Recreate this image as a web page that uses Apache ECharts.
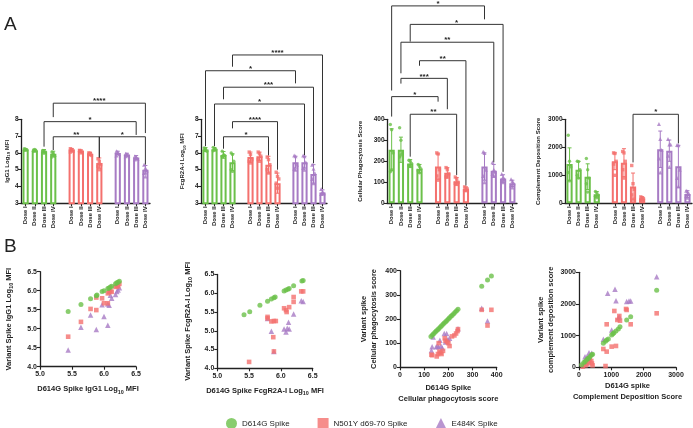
<!DOCTYPE html>
<html><head><meta charset="utf-8">
<script src="https://cdn.jsdelivr.net/npm/echarts@6/dist/echarts.min.js"></script>
<style>html,body{margin:0;padding:0;background:#fff}#c{width:693px;height:428px}</style>
</head><body><div id="c"></div>
<script>
// ---------- categories ----------
const doseCats = ['Dose I','Dose II','Dose III','Dose IV','','Dose I','Dose II','Dose III','Dose IV','','Dose I','Dose II','Dose III','Dose IV'];
const variantNames = ['D614G Spike','N501Y d69-70 Spike','E484K Spike'];

// ---------- Panel A1: IgG1 ----------
const igg1Means = [[6.2,6.15,6.1,5.95],[6.2,6.12,5.95,5.4],[6.0,5.9,5.72,5.0]];
const igg1Sd = [[0.05,0.06,0.1,0.15],[0.06,0.06,0.08,0.3],[0.1,0.08,0.12,0.25]];
const igg1Pts = [
  [[6.25,6.2,6.18,6.15,6.22],[6.18,6.15,6.12,6.1,6.2],[6.15,6.08,6.05,6.12,5.98],[6.05,5.9,5.8,5.75,6.0]],
  [[6.25,6.18,6.1,6.05,6.2],[6.15,6.1,6.05,6.12,6.0],[6.0,5.95,5.85,5.9,5.98],[5.65,5.5,5.3,5.2,5.0]],
  [[6.1,6.0,5.92,5.85,6.05],[5.95,5.9,5.85,5.8,5.92],[5.8,5.75,5.65,5.6,5.7],[5.3,5.1,4.95,4.8,4.6]]
];
// [fromCat, toCat, lineY, leftEndY, rightEndY, label]
const igg1Sig = [[3,13,8.96,8.13,7.18,'****'],[2,12,7.86,6.37,7.07,'*'],[3,8,6.96,6.17,5.72,'**'],[8,13,6.96,5.72,5.3,'*']];

// ---------- Panel A2: FcgR2A-I ----------
const fcgMeans = [[6.2,6.22,5.88,5.45],[5.75,5.8,5.3,4.2],[5.45,5.45,4.75,3.65]];
const fcgSd = [[0.12,0.1,0.2,0.5],[0.3,0.25,0.5,0.6],[0.35,0.35,0.55,0.15]];
const fcgPts = [
  [[6.3,6.2,6.1,6.15,6.25],[6.33,6.25,6.2,6.13,6.2],[6.1,5.9,5.85,5.78,5.8],[6.0,5.9,5.5,5.0,4.9]],
  [[6.05,5.9,5.6,5.5,5.4],[6.05,5.95,5.8,5.6,5.5],[5.75,5.6,5.3,5.0,4.8],[4.85,4.6,4.45,4.2,3.9]],
  [[5.85,5.8,5.3,5.05,5.0],[5.85,5.8,5.45,5.1,5.0],[5.3,5.05,4.8,4.45,4.2],[3.85,3.7,3.6,3.55,3.6]]
];
const fcgSig = [[3,13,11.83,11.13,3.85,'****'],[0,10,10.89,6.4,10.14,'*'],[2,12,9.91,9.19,5.38,'***'],[1,11,8.91,6.4,5.87,'*'],[3,8,7.86,7.46,5.0,'****'],[2,7,6.96,6.25,5.85,'*']];

// ---------- Panel A3: Cellular phagocytosis ----------
const adcpMeans = [[255,255,190,165],[175,145,105,68],[175,155,118,95]];
const adcpSd = [[100,60,18,20],[60,25,18,10],[65,30,18,15]];
const adcpPts = [
  [[375,350,240,150,160],[360,300,240,220,230],[205,200,190,180,175],[185,175,165,155,145]],
  [[240,235,160,130,110],[170,160,140,125,130],[125,115,100,95,90],[78,72,68,62,60]],
  [[245,240,160,130,100],[195,160,150,140,130],[140,125,115,110,100],[115,105,95,85,75]]
];
const adcpSig = [[0,10,940,537,876,'*'],[2,12,852,770,150,'*'],[1,11,767,619,195,'**'],[3,8,679,655,85,'**'],[1,6,595,570,448,'***'],[0,5,508,413,484,'*'],[2,7,424,222,135,'**']];

// ---------- Panel A4: Complement deposition ----------
const adcdMeans = [[1400,1200,950,320],[1500,1450,600,170],[1930,1880,1320,330]];
const adcdSd = [[580,300,460,100],[300,500,480,60],[650,380,750,120]];
const adcdPts = [
  [[2430,1500,1300,1100,800],[1500,1490,1200,1000,900],[1600,1200,900,700,400],[420,380,300,250,200]],
  [[1800,1780,1500,1400,1000],[1850,1800,1500,1200,900],[1350,700,500,300,150],[230,200,170,130,100]],
  [[2830,2300,1900,1600,1100],[2300,2100,2100,1700,1300],[2080,2070,1200,900,600],[450,420,350,250,200]]
];
const adcdSig = [[7,12,3179,1460,2140,'*']];

// ---------- Panel B scatter (x = D614G, y = variant) ----------
const igg1ScatG = [[5.44,5.45],[5.64,5.64],[5.79,5.79],[5.88,5.87],[5.89,5.89],[5.97,5.98],[6.0,6.0],[6.06,6.06],[6.08,6.07],[6.1,6.1],[6.12,6.12],[6.18,6.18],[6.2,6.21],[6.22,6.22],[6.24,6.25]];
const igg1ScatR = [[5.44,4.79],[5.64,5.18],[5.79,5.52],[5.88,5.49],[5.88,5.82],[5.97,5.8],[6.0,5.67],[6.06,5.67],[6.06,5.93],[6.08,5.96],[6.1,5.99],[6.12,5.97],[6.18,6.1],[6.2,6.12],[6.22,6.12],[6.24,6.18]];
const igg1ScatP = [[5.44,4.44],[5.64,5.04],[5.79,5.36],[5.88,4.98],[5.97,5.63],[6.0,5.32],[6.06,5.09],[6.06,5.65],[6.08,5.62],[6.1,5.88],[6.12,5.8],[6.18,5.9],[6.2,5.98],[6.22,6.02],[6.24,6.08]];

const fcgScatG = [[5.42,5.43],[5.51,5.51],[5.67,5.68],[5.79,5.79],[5.85,5.85],[5.89,5.88],[5.91,5.9],[6.05,6.06],[6.08,6.09],[6.11,6.11],[6.13,6.13],[6.2,6.2],[6.33,6.33],[6.35,6.34]];
const fcgScatR = [[5.5,4.17],[5.79,5.37],[5.79,5.33],[5.85,5.25],[5.89,5.26],[5.92,5.26],[5.88,4.83],[5.89,4.45],[6.05,5.6],[6.08,5.55],[6.09,5.5],[6.13,5.63],[6.2,5.9],[6.2,5.77],[6.32,6.05],[6.35,6.05]];
const fcgScatP = [[5.79,5.33],[5.85,4.99],[5.89,4.45],[6.05,5.05],[6.08,4.97],[6.1,5.07],[6.13,5.05],[6.12,5.23],[6.2,5.45],[6.32,5.8],[6.35,5.78]];

const adcpScatG = [[128,128],[134,134],[139,139],[145,145],[150,150],[156,156],[161,161],[167,167],[172,172],[178,178],[183,183],[189,189],[194,194],[200,200],[205,205],[211,211],[216,216],[222,222],[228,228],[234,234],[240,240],[338,336],[362,361],[378,378]];
const adcpScatR = [[130,52],[133,50],[152,45],[157,55],[160,100],[163,65],[168,60],[172,55],[178,68],[185,120],[188,110],[195,105],[200,100],[205,88],[215,128],[225,132],[232,140],[238,150],[240,158],[338,238],[362,173],[378,238]];
const adcpScatP = [[130,70],[133,85],[137,125],[150,85],[155,88],[160,85],[165,112],[170,88],[175,80],[183,140],[188,105],[193,140],[198,115],[205,120],[240,160],[338,245],[362,192]];

const adcdScatG = [[82,80],[150,150],[190,185],[237,235],[280,280],[310,300],[350,350],[392,400],[420,410],[753,758],[820,820],[856,860],[907,890],[1010,1020],[1050,1060],[1082,1095],[1144,1147],[1216,1211],[1268,1284],[1474,1495],[1598,1600],[2402,2432]];
const adcdScatR = [[120,20],[200,60],[250,100],[300,150],[330,250],[380,200],[400,120],[420,60],[753,579],[820,40],[856,495],[856,1358],[1010,653],[1144,674],[1093,1779],[1186,1495],[1247,1621],[1268,1474],[1454,1842],[1474,1811],[1598,1358],[2402,1705]];
const adcdScatP = [[186,337],[250,330],[309,463],[392,442],[753,884],[887,2337],[1010,1179],[1113,2463],[1144,2105],[1216,1568],[1247,1600],[1474,2074],[1546,2095],[1598,2095],[2402,2863]];

// ---------- styling ----------
const FONT = 'Liberation Sans';
const TXT = '#222';
const COLORS = ['#6cc04a','#f4716e','#a77bc4'];
const SYMS = ['circle','rect','triangle'];
const OFFS = [0,5,10];

function errRender(color, yMin) {
  return function (params, api) {
    const x = api.value(0), m = api.value(1), s = api.value(2);
    const t = api.coord([x, m + s]);
    const b = api.coord([x, Math.max(m - s, yMin)]);
    const hw = 2;
    const st = {stroke: color, lineWidth: 1};
    return {type: 'group', children: [
      {type: 'line', shape: {x1: t[0], y1: t[1], x2: b[0], y2: b[1]}, style: st},
      {type: 'line', shape: {x1: t[0]-hw, y1: t[1], x2: t[0]+hw, y2: t[1]}, style: st},
      {type: 'line', shape: {x1: b[0]-hw, y1: b[1], x2: b[0]+hw, y2: b[1]}, style: st}
    ]};
  };
}
function sigRender(list) {
  return function (params, api) {
    const s = list[params.dataIndex];
    const p1 = api.coord([s[0], s[2]]), p2 = api.coord([s[1], s[2]]);
    const l = api.coord([s[0], s[3]]), r = api.coord([s[1], s[4]]);
    return {type: 'group', children: [
      {type: 'polyline', shape: {points: [[l[0], l[1]], [p1[0], p1[1]], [p2[0], p2[1]], [r[0], r[1]]]},
       style: {stroke: '#333', lineWidth: 1, fill: 'none'}},
      {type: 'text', x: (p1[0] + p2[0]) / 2, y: p1[1] + 2,
       style: {text: s[5], align: 'center', verticalAlign: 'bottom', fontSize: 8, fontWeight: 'bold', fill: TXT, fontFamily: FONT}}
    ]};
  };
}

const series = [];
function addBarPanel(g, means, sds, pts, sig, yMin) {
  for (let v = 0; v < 3; v++) {
    const barData = doseCats.map(() => '-');
    means[v].forEach((m, d) => { barData[OFFS[v] + d] = m; });
    series.push({type: 'bar', name: 'bar' + g + v, xAxisIndex: g, yAxisIndex: g, data: barData,
      barWidth: 6.2, barGap: '-100%', silent: true, z: 2,
      itemStyle: {color: '#fff', borderColor: COLORS[v], borderWidth: 2}});
    series.push({type: 'custom', name: 'err' + g + v, xAxisIndex: g, yAxisIndex: g,
      data: means[v].map((m, d) => [OFFS[v] + d, m, sds[v][d]]), encode: {x: 0, y: 1},
      renderItem: errRender(COLORS[v], yMin), silent: true, z: 3});
    const pd = [];
    pts[v].forEach((arr, d) => arr.forEach((val, k) => pd.push({value: [OFFS[v] + d, val], symbolOffset: [(k % 3 - 1) * 1.3, 0]})));
    series.push({type: 'scatter', name: 'pts' + g + v, xAxisIndex: g, yAxisIndex: g, data: pd,
      symbol: SYMS[v], symbolSize: v === 2 ? 4 : 3.4, itemStyle: {color: COLORS[v]}, silent: true, z: 4});
  }
  series.push({type: 'custom', name: 'sig' + g, xAxisIndex: g, yAxisIndex: g,
    data: sig.map(s => [s[0], s[2]]), encode: {x: 0, y: 1}, renderItem: sigRender(sig), silent: true, z: 5});
}
addBarPanel(0, igg1Means, igg1Sd, igg1Pts, igg1Sig, 3);
addBarPanel(1, fcgMeans, fcgSd, fcgPts, fcgSig, 3);
addBarPanel(2, adcpMeans, adcpSd, adcpPts, adcpSig, 0);
addBarPanel(3, adcdMeans, adcdSd, adcdPts, adcdSig, 0);

const scatSets = [
  [igg1ScatG, igg1ScatR, igg1ScatP],
  [fcgScatG, fcgScatR, fcgScatP],
  [adcpScatG, adcpScatR, adcpScatP],
  [adcdScatG, adcdScatR, adcdScatP]
];
scatSets.forEach((set, i) => {
  set.forEach((d, v) => {
    series.push({type: 'scatter', name: variantNames[v], xAxisIndex: 4 + i, yAxisIndex: 4 + i, data: d,
      symbol: SYMS[v], symbolSize: v === 2 ? 5.5 : (v === 1 ? 4.6 : 5), itemStyle: {color: COLORS[v]}, z: 3 - v + 2});
  });
});

const axLine = {show: true, lineStyle: {color: TXT, width: 1.3}};
const axTick = {show: true, length: 3, lineStyle: {color: TXT, width: 1.1}};
const subRich = (fs) => ({s: {fontSize: fs * 0.72, fontWeight: 'bold', fontFamily: FONT, color: TXT, verticalAlign: 'bottom', lineHeight: fs + 2}});
const plainNum = (dec) => (v => v.toFixed(dec));

const aGrids = [
  {left: 21, top: 119.3, width: 129, height: 84},
  {left: 201, top: 119.3, width: 126, height: 84},
  {left: 387, top: 119.3, width: 130, height: 84},
  {left: 565, top: 119.3, width: 127, height: 84}
];
const bGrids = [
  {left: 40, top: 271.7, width: 96, height: 95},
  {left: 217.3, top: 274.5, width: 95.4, height: 93.8},
  {left: 400, top: 270.7, width: 96.7, height: 96.6},
  {left: 579, top: 272.3, width: 97, height: 95}
];
const aY = [
  {min: 3, max: 8, interval: 1, name: 'IgG1 Log{s|10} MFI', gap: 7},
  {min: 3, max: 8, interval: 1, name: 'FcgR2A-I Log{s|10} MFI', gap: 14.5},
  {min: 0, max: 400, interval: 100, name: 'Cellular Phagocytosis Score', gap: 22.5},
  {min: 0, max: 3000, interval: 1000, name: 'Complement Deposition Score', gap: 23}
];
const bAx = [
  {min: 5, max: 6.5, interval: 0.5, ymin: 4, ymax: 6.5, yint: 0.5, dec: 1,
   xname: 'D614G Spike IgG1 Log{s|10} MFI', yname: 'Variant Spike IgG1 Log{s|10} MFI', xgap: 17, ygap: 26},
  {min: 5, max: 6.5, interval: 0.5, ymin: 4, ymax: 6.5, yint: 0.5, dec: 1,
   xname: 'D614G Spike FcgR2A-I Log{s|10} MFI', yname: 'Variant Spike FcgR2A-I Log{s|10} MFI', xgap: 17, ygap: 24},
  {min: 0, max: 400, interval: 100, ymin: 0, ymax: 400, yint: 100, dec: 0,
   xname: 'D614G Spike\nCellular phagocytosis score', yname: 'Variant spike\nCellular phagocytosis score', xgap: 15, ygap: 21},
  {min: 0, max: 3000, interval: 1000, ymin: 0, ymax: 3000, yint: 1000, dec: 0,
   xname: 'D614G spike\nComplement Deposition Score', yname: 'Variant spike\ncomplement deposition score', xgap: 13, ygap: 23}
];

const xAxis = [], yAxis = [];
aY.forEach((a, i) => {
  xAxis.push({type: 'category', gridIndex: i, data: doseCats, axisLine: axLine,
    axisTick: {show: true, alignWithLabel: true, length: 3, interval: (idx, val) => val !== '', lineStyle: {color: TXT, width: 1.1}},
    axisLabel: {rotate: 90, interval: 0, fontSize: 6, fontWeight: 'bold', fontFamily: FONT, color: TXT, margin: 3}});
  yAxis.push({type: 'value', gridIndex: i, min: a.min, max: a.max, interval: a.interval,
    axisLine: axLine, axisTick: axTick, splitLine: {show: false},
    axisLabel: {fontSize: 6.5, fontWeight: 'bold', fontFamily: FONT, color: TXT, margin: 2.5, formatter: plainNum(0)},
    name: a.name, nameLocation: 'middle', nameGap: a.gap,
    nameTextStyle: {fontSize: 6, fontWeight: 'bold', fontFamily: FONT, color: TXT, lineHeight: 8, rich: subRich(6)}});
});
bAx.forEach((a, i) => {
  xAxis.push({type: 'value', gridIndex: 4 + i, min: a.min, max: a.max, interval: a.interval,
    axisLine: axLine, axisTick: axTick, splitLine: {show: false},
    axisLabel: {fontSize: 7, fontWeight: 'bold', fontFamily: FONT, color: TXT, margin: 4, formatter: plainNum(a.dec)},
    name: a.xname, nameLocation: 'middle', nameGap: a.xgap,
    nameTextStyle: {fontSize: 7.5, fontWeight: 'bold', fontFamily: FONT, color: TXT, lineHeight: 11, rich: subRich(7.5)}});
  yAxis.push({type: 'value', gridIndex: 4 + i, min: a.ymin, max: a.ymax, interval: a.yint,
    axisLine: axLine, axisTick: axTick, splitLine: {show: false},
    axisLabel: {fontSize: 7, fontWeight: 'bold', fontFamily: FONT, color: TXT, margin: 3, formatter: plainNum(a.dec)},
    name: a.yname, nameLocation: 'middle', nameGap: a.ygap,
    nameTextStyle: {fontSize: 7.5, fontWeight: 'bold', fontFamily: FONT, color: TXT, lineHeight: 10, rich: subRich(7.5)}});
});

const chart = echarts.init(document.getElementById('c'), null, {renderer: 'canvas'});
chart.setOption({
  animation: false,
  backgroundColor: '#fff',
  grid: aGrids.concat(bGrids),
  xAxis: xAxis,
  yAxis: yAxis,
  series: series,
  legend: {
    left: 221, top: 413, itemWidth: 11, itemHeight: 11, itemGap: 28, selectedMode: false,
    data: [{name: variantNames[0], icon: 'circle'}, {name: variantNames[1], icon: 'rect'}, {name: variantNames[2], icon: 'triangle'}],
    textStyle: {fontSize: 8, color: TXT, fontFamily: FONT}
  },
  graphic: [
    {type: 'text', left: 4, top: 15, style: {text: 'A', fontSize: 19, fontFamily: FONT, fill: '#222'}},
    {type: 'text', left: 4, top: 237, style: {text: 'B', fontSize: 19, fontFamily: FONT, fill: '#222'}}
  ]
});
</script></body></html>
